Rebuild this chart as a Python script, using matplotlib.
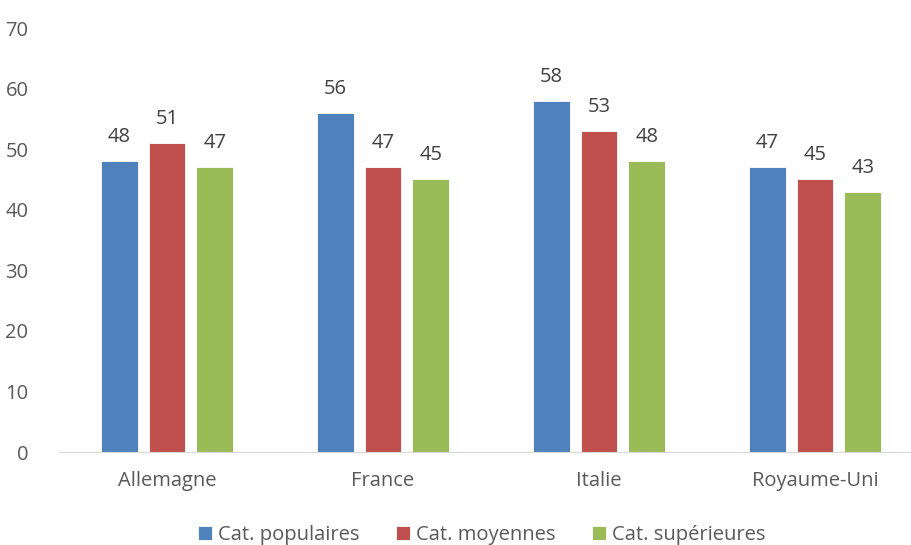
import numpy as np
import matplotlib.pyplot as plt

countries = ["Allemagne", "France", "Italie", "Royaume-Uni"]
populaires = [48, 56, 58, 47]
moyennes = [51, 47, 53, 45]
superieures = [47, 45, 48, 43]
series_names = ["Cat. populaires", "Cat. moyennes", "Cat. supérieures"]
colors = ["#4f81bd", "#c0504d", "#9bbb59"]

plt.rcParams['font.family'] = ['Open Sans', 'DejaVu Sans']
fig = plt.figure(figsize=(9.12, 5.45), dpi=100)
ax = fig.add_axes([59 / 912, (545 - 452) / 545, (912 - 59) / 912, (452 - 28) / 545])

x = np.arange(len(countries))
w = 0.171
step = 0.222
for i, (vals, name, c) in enumerate(zip([populaires, moyennes, superieures], series_names, colors)):
    pos = x + (i - 1) * step
    ax.bar(pos, vals, width=w, color=c, label=name, edgecolor="white", linewidth=0.6)
    for xp, v in zip(pos, vals):
        ax.text(xp, v + 2.3, str(v), ha="center", va="bottom", fontsize=14.5, color="#404040")

ax.set_xlim(-0.5, 3 + (912 - 815) / 216)
ax.set_ylim(0, 70)
ax.set_yticks(range(0, 71, 10))
ax.set_xticks(x)
ax.set_xticklabels(countries)
for s in ["top", "right", "left"]:
    ax.spines[s].set_visible(False)
ax.spines["bottom"].set_color("#d9d9d9")
ax.tick_params(axis="both", length=0, labelsize=14.5, colors="#595959")
ax.tick_params(axis="y", pad=22)
ax.tick_params(axis="x", pad=14)

fig.legend(loc="center", bbox_to_anchor=(482 / 912, 1 - 535 / 545), ncol=3, frameon=False,
           fontsize=14.5, handlelength=0.7, handleheight=0.7, columnspacing=1.8, handletextpad=0.3,
           labelcolor="#595959")

fig.savefig("out.png")
